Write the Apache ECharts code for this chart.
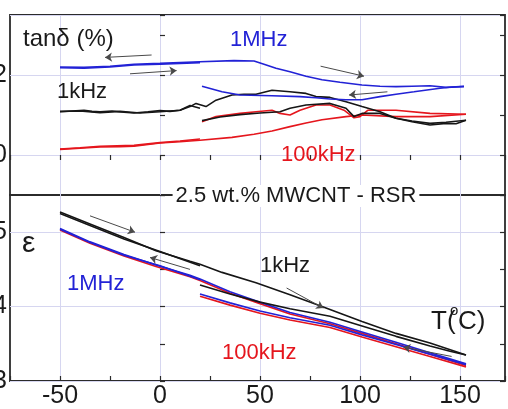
<!DOCTYPE html>
<html>
<head>
<meta charset="utf-8">
<script src="https://cdn.jsdelivr.net/npm/echarts@6/dist/echarts.min.js"></script>
<style>
  html, body { margin: 0; padding: 0; background: #fff; }
  #chart { width: 508px; height: 409px; }
</style>
</head>
<body>
<div id="chart"></div>
<script>
// Temperature axis (°C) and value-axis tick settings
const tempTicks = [-50, 0, 50, 100, 150];
const tanTickLabels = [0, 2];
const epsTickLabels = [3, 4, 5];

// Loss tangent tanδ (%) versus T (°C): cool 20→-50, heat -50→152, cool 152→20
const tan1MHzCool1 = [[20,2.31],[10,2.29],[0,2.27],[-13,2.25],[-25,2.20],[-38,2.17],[-50,2.18]];
const tan1MHzHeat = [[-50,2.20],[-38,2.19],[-25,2.22],[-13,2.27],[0,2.29],[10,2.31],[20,2.33],[37,2.36],[47,2.35],[52,2.27],[58,2.17],[65,2.08],[73,1.97],[81,1.88],[90,1.82],[101,1.75],[110,1.72],[118,1.71],[126,1.72],[135,1.73],[143,1.69],[152,1.71]];
const tan1MHzCool2 = [[152,1.72],[146,1.70],[140,1.67],[127,1.58],[118,1.52],[110,1.46],[101,1.38],[93,1.38],[85,1.40],[78,1.43],[70,1.46],[56,1.48],[40,1.50],[31,1.58],[26,1.65],[21,1.72]];

const tan1kHzCool1 = [[20,1.17],[15,1.24],[10,1.12],[0,1.08],[-10,1.05],[-20,1.09],[-30,1.06],[-40,1.10],[-50,1.09]];
const tan1kHzHeat = [[-50,1.08],[-44,1.10],[-38,1.12],[-34,1.09],[-30,1.08],[-24,1.10],[-18,1.07],[-13,1.05],[-6,1.08],[0,1.11],[5,1.09],[10,1.12],[15,1.21],[18,1.29],[23,1.21],[28,1.37],[36,1.50],[42,1.52],[48,1.52],[56,1.62],[65,1.58],[73,1.54],[78,1.46],[85,1.44],[93,1.33],[101,1.21],[110,1.08],[118,0.92],[126,0.83],[135,0.75],[143,0.79],[148,0.78],[153,0.87]];
const tan1kHzCool2 = [[153,0.87],[143,0.82],[135,0.79],[126,0.85],[118,0.92],[110,1.04],[101,1.04],[97,0.96],[93,1.17],[85,1.29],[73,1.25],[65,1.17],[60,1.08],[50,1.05],[40,1.01],[30,0.95],[21,0.86]];

const tan100kHzCool1 = [[20,0.40],[10,0.35],[0,0.31],[-13,0.24],[-30,0.22],[-40,0.18],[-50,0.15]];
const tan100kHzHeat = [[-50,0.14],[-40,0.17],[-30,0.20],[-20,0.21],[-13,0.22],[0,0.30],[10,0.33],[20,0.37],[36,0.44],[47,0.52],[56,0.60],[65,0.71],[73,0.80],[81,0.88],[93,0.96],[101,1.00],[118,0.96],[135,0.96],[153,1.02]];
const tan100kHzCool2 = [[153,1.02],[135,1.04],[118,1.12],[104,1.12],[100,0.96],[97,0.93],[92,1.12],[85,1.25],[78,1.25],[70,1.12],[65,1.00],[60,1.04],[56,1.12],[48,1.08],[40,1.04],[28,0.96],[21,0.83]];

// Permittivity ε versus T (°C)
const eps1kHzCool1 = [[20,4.55],[0,4.74],[-18,4.91],[-35,5.09],[-50,5.25]];
const eps1kHzHeat = [[-50,5.27],[-35,5.11],[-18,4.93],[-2,4.75],[15,4.61],[20,4.57],[31,4.46],[48,4.32],[65,4.16],[81,4.00],[85,3.96],[101,3.80],[118,3.64],[135,3.51],[153,3.35]];
const eps1kHzCool2 = [[153,3.35],[145,3.40],[135,3.47],[118,3.60],[101,3.74],[85,3.87],[65,3.97],[50,4.06],[35,4.17],[20,4.29]];

const eps1MHzCool1 = [[20,4.36],[0,4.55],[-18,4.69],[-35,4.86],[-50,5.04]];
const eps1MHzHeat = [[-50,5.05],[-35,4.87],[-18,4.70],[-2,4.56],[15,4.42],[20,4.37],[35,4.20],[50,4.06],[65,3.92],[85,3.79],[101,3.66],[118,3.52],[135,3.38],[153,3.23]];
const eps1MHzCool2 = [[153,3.22],[135,3.36],[118,3.49],[101,3.62],[85,3.75],[65,3.85],[50,3.94],[35,4.05],[20,4.17]];

const eps100kHzHeat = [[-50,5.03],[-35,4.85],[-18,4.68],[-2,4.54],[15,4.40],[20,4.35],[35,4.18],[50,4.04],[65,3.90],[85,3.77],[101,3.64],[118,3.50],[135,3.36],[153,3.21]];
const eps100kHzCool2 = [[153,3.19],[135,3.33],[118,3.46],[101,3.59],[85,3.72],[65,3.82],[50,3.91],[35,4.02],[20,4.14]];

// Sweep-direction arrows, [from, to] in data units
const arrowsTan = [[[-4.2,2.50],[-27.5,2.44]], [[-15,2.03],[8.3,2.11]], [[80.3,2.22],[102,1.97]], [[113.7,1.58],[94.5,1.50]]];
const arrowsEps = [[[-35,5.22],[-12.5,5.00]], [[15,4.50],[-5,4.66]], [[63.3,4.25],[81.7,3.98]], [[145.8,3.33],[121.7,3.455]]];

const FONT = '"Liberation Sans", Arial, Helvetica, sans-serif';
const BLUE = '#2222d6', RED = '#e5161d', BLACK = '#161616';
const GRIDC = '#d6d6f0', FRAME = '#2b2b2b';

const chart = echarts.init(document.getElementById('chart'), null, { renderer: 'canvas' });

function xAxisCfg(gridIndex, position, showLabels) {
  return {
    type: 'value', gridIndex, position, min: -75, max: 172.5, interval: 25,
    axisLine: { show: false },
    axisTick: { show: true, inside: true, length: 5, lineStyle: { color: FRAME, width: 1.2 } },
    axisLabel: {
      show: showLabels, margin: 3, fontSize: 25, fontFamily: FONT, color: '#1a1a1a',
      hideOverlap: false,
      formatter: v => (tempTicks.indexOf(v) >= 0 ? String(v) : '')
    },
    splitLine: { show: true, lineStyle: { color: ['transparent', GRIDC], width: 1 } }
  };
}

function yAxisCfg(gridIndex, position, min, max, interval, labels, splitColors) {
  return {
    type: 'value', gridIndex, position, min, max, interval,
    axisLine: { show: false },
    axisTick: { show: true, inside: true, length: 5, lineStyle: { color: FRAME, width: 1.2 } },
    axisLabel: {
      show: !!labels, margin: 3, fontSize: 25, fontFamily: FONT, color: '#1a1a1a',
      formatter: v => (labels && labels.indexOf(v) >= 0 ? String(v) : '')
    },
    splitLine: { show: !!splitColors, lineStyle: { color: splitColors || ['transparent'], width: 1 } }
  };
}

function line(data, color, xi, yi, extra) {
  return Object.assign({
    type: 'line', data, xAxisIndex: xi, yAxisIndex: yi,
    showSymbol: false, symbol: 'none', smooth: false, silent: true,
    lineStyle: { color, width: 1.6 }, emphasis: { disabled: true }, z: 3
  }, extra || {});
}

function arrowMarks(list) {
  return {
    silent: true, symbol: ['none', 'arrow'], symbolSize: 7,
    lineStyle: { color: '#4a4a4a', width: 1, type: 'solid' },
    label: { show: false }, emphasis: { disabled: true }, animation: false,
    data: list.map(a => [{ coord: a[0] }, { coord: a[1] }])
  };
}

function label(text, x, y, color, size) {
  return {
    type: 'text', x, y, z: 100,
    style: { text, fill: color, font: size + 'px ' + FONT, align: 'left', verticalAlign: 'middle',
             textAlign: 'left', textVerticalAlign: 'middle' }
  };
}

const gridBase = { left: 10, width: 495, show: true, borderColor: FRAME, borderWidth: 1.8,
                   backgroundColor: 'transparent', containLabel: false, outerBoundsMode: 'none' };

const option = {
  animation: false,
  backgroundColor: '#fff',
  grid: [
    Object.assign({ top: 15, height: 180 }, gridBase),
    Object.assign({ top: 195, height: 186 }, gridBase)
  ],
  xAxis: [
    xAxisCfg(0, 'top', false),
    xAxisCfg(1, 'bottom', true)
  ],
  yAxis: [
    yAxisCfg(0, 'left', -1, 3.5, 1, tanTickLabels, ['transparent', GRIDC]),
    yAxisCfg(0, 'right', -1, 3.5, 1, null, null),
    yAxisCfg(1, 'left', 3, 5.5, 0.5, epsTickLabels, [GRIDC, 'transparent']),
    yAxisCfg(1, 'right', 3, 5.5, 0.5, null, null)
  ],
  series: [
    // tanδ panel
    line(tan100kHzHeat, RED, 0, 0, { markLine: arrowMarks(arrowsTan) }),
    line(tan100kHzCool1, RED, 0, 0),
    line(tan100kHzCool2, RED, 0, 0),
    line(tan1kHzHeat, BLACK, 0, 0),
    line(tan1kHzCool1, BLACK, 0, 0),
    line(tan1kHzCool2, BLACK, 0, 0),
    line(tan1MHzHeat, BLUE, 0, 0),
    line(tan1MHzCool1, BLUE, 0, 0),
    line(tan1MHzCool2, BLUE, 0, 0),
    // ε panel
    line(eps100kHzHeat, RED, 1, 2, { markLine: arrowMarks(arrowsEps) }),
    line(eps100kHzCool2, RED, 1, 2),
    line(eps1MHzHeat, BLUE, 1, 2),
    line(eps1MHzCool1, BLUE, 1, 2),
    line(eps1MHzCool2, BLUE, 1, 2),
    line(eps1kHzHeat, BLACK, 1, 2),
    line(eps1kHzCool1, BLACK, 1, 2),
    line(eps1kHzCool2, BLACK, 1, 2)
  ],
  graphic: [
    label('tanδ (%)', 23, 39, '#1a1a1a', 24),
    label('1MHz', 230, 40, BLUE, 22),
    label('1kHz', 57, 92, '#1a1a1a', 22),
    label('100kHz', 281, 155, RED, 22),
    {
      type: 'text', x: 296, y: 196, z: 100,
      style: { text: '2.5 wt.% MWCNT - RSR', fill: '#1a1a1a', font: '22px ' + FONT,
               align: 'center', verticalAlign: 'middle', textAlign: 'center', textVerticalAlign: 'middle',
               backgroundColor: '#fff', padding: [0, 3] }
    },
    label('ε', 22, 244, '#1a1a1a', 30),
    label('1MHz', 67, 284, BLUE, 22),
    label('1kHz', 260, 266, '#1a1a1a', 22),
    label('100kHz', 222, 353, RED, 22),
    label('T(', 431, 322, '#1a1a1a', 26),
    label('o', 450, 311, '#1a1a1a', 15),
    label('C)', 458, 322, '#1a1a1a', 26)
  ]
};

chart.setOption(option);
</script>
</body>
</html>
